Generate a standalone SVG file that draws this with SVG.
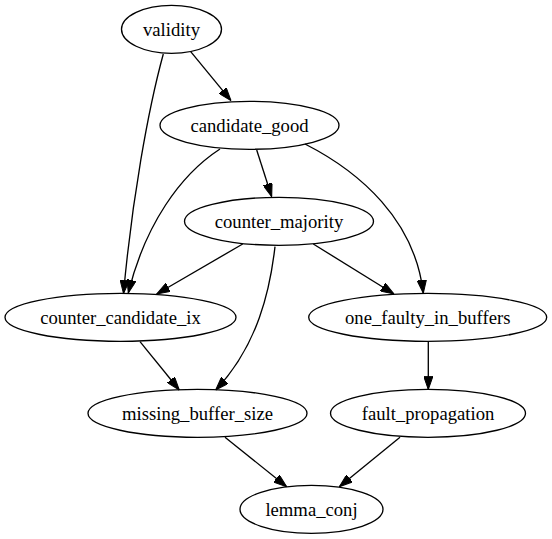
<svg xmlns="http://www.w3.org/2000/svg" width="552" height="539" viewBox="0 0 552 539">
<style>
.node ellipse{fill:none;stroke:#000;stroke-width:1.33}
.node text{font-family:"Liberation Serif","Times New Roman",serif;font-size:18.67px;text-anchor:middle;fill:#000}
.edge path{fill:none;stroke:#000;stroke-width:1.33;marker-end:url(#arrow)}
</style>
<defs>
<marker id="arrow" viewBox="0 0 13.33 9.33" refX="13.33" refY="4.67" markerWidth="13.33" markerHeight="9.33" markerUnits="userSpaceOnUse" orient="auto">
<path d="M0,0 L13.33,4.67 L0,9.33 z" fill="#000" stroke="#000" stroke-width="1"/>
</marker>
</defs>
<rect width="552" height="539" fill="#fff"/>
<g id="edges" class="edge">
<path d="M190.7,51.7 L231,100.7"/>
<path d="M163.3,54 C148,110 132,200 123.5,293.5"/>
<path d="M220,149 C180,175 145,225 128.3,293"/>
<path d="M256.7,150 L271.7,196.7"/>
<path d="M305,144 C360,172 415,220 423.3,293.3"/>
<path d="M242.7,244 L156.7,294"/>
<path d="M275,246.7 C270,290 258,345 215.7,390"/>
<path d="M313.3,244 L394,294"/>
<path d="M140,341.7 L179.3,390"/>
<path d="M428.3,341.7 L428.3,389.5"/>
<path d="M225,437.3 L286.7,486.7"/>
<path d="M400,437.3 L339.3,486.7"/>
</g>
<g id="validity" class="node"><ellipse cx="171.5" cy="29.3" rx="50" ry="24"/><text x="171.5" y="35.8">validity</text></g>
<g id="candidate_good" class="node"><ellipse cx="249.5" cy="125.3" rx="89.5" ry="24"/><text x="249.5" y="131.8">candidate_good</text></g>
<g id="counter_majority" class="node"><ellipse cx="279" cy="221.3" rx="94.5" ry="24"/><text x="279" y="227.8">counter_majority</text></g>
<g id="counter_candidate_ix" class="node"><ellipse cx="120.5" cy="317.3" rx="115.5" ry="24"/><text x="120.5" y="323.8">counter_candidate_ix</text></g>
<g id="one_faulty_in_buffers" class="node"><ellipse cx="427.7" cy="317.3" rx="119" ry="24"/><text x="427.7" y="323.8">one_faulty_in_buffers</text></g>
<g id="missing_buffer_size" class="node"><ellipse cx="197.5" cy="413.3" rx="109.5" ry="24"/><text x="197.5" y="419.8">missing_buffer_size</text></g>
<g id="fault_propagation" class="node"><ellipse cx="428" cy="413.3" rx="97.5" ry="24"/><text x="428" y="419.8">fault_propagation</text></g>
<g id="lemma_conj" class="node"><ellipse cx="311.5" cy="509.3" rx="71.5" ry="24"/><text x="311.5" y="515.8">lemma_conj</text></g>
</svg>
